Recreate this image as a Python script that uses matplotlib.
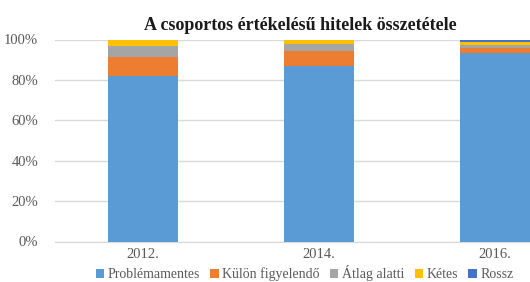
import matplotlib
matplotlib.use('Agg')
import matplotlib.pyplot as plt
import numpy as np

years = ['2012.', '2014.', '2016.']
series = ['Problémamentes', 'Külön figyelendő', 'Átlag alatti', 'Kétes', 'Rossz']
problemamentes = [82.0, 87.0, 93.2]
kulon = [9.4, 7.4, 2.5]
atlag = [5.5, 3.6, 1.8]
ketes = [3.0, 2.0, 1.5]
rossz = [0.1, 0.0, 1.0]
colors = ['#5B9BD5', '#ED7D31', '#A5A5A5', '#FFC000', '#4472C4']

values = [problemamentes, kulon, atlag, ketes, rossz]

fig = plt.figure(figsize=(5.30, 2.82), dpi=100)
# plot area is wider than the picture: the right part is cut off
ax = fig.add_axes([55 / 530, 40.5 / 282, 528 / 530, 202 / 282])

x = np.arange(len(years))
bottom = np.zeros(len(years))
handles = []
for name, vals, c in zip(series, values, colors):
    b = ax.bar(x, vals, width=0.4, bottom=bottom, color=c, label=name, zorder=3)
    handles.append(b)
    bottom += np.array(vals)

ax.set_xlim(-0.5, 2.5)
ax.set_ylim(0, 100)
ax.set_yticks(range(0, 101, 20))
ax.set_yticklabels([f'{v}%' for v in range(0, 101, 20)])
ax.set_xticks(x)
ax.set_xticklabels(years)
ax.grid(axis='y', color='#D9D9D9', linewidth=1, zorder=0)
for s in ['top', 'right', 'left']:
    ax.spines[s].set_visible(False)
ax.spines['bottom'].set_color('#D9D9D9')
ax.tick_params(axis='both', length=0, labelcolor='#595959', labelsize=10.5)
ax.tick_params(axis='y', pad=12)
ax.tick_params(axis='x', pad=5)
for t in ax.get_xticklabels() + ax.get_yticklabels():
    t.set_family('Liberation Serif')

fig.text(300 / 530, 257 / 282, 'A csoportos értékelésű hitelek összetétele',
         ha='center', va='center', fontsize=13, fontweight='bold',
         family='Liberation Serif', color='#1a1a1a')

leg = fig.legend(handles=handles, labels=series, ncol=5, loc='center left',
                 bbox_to_anchor=(86 / 530, 9 / 282), frameon=False,
                 handlelength=0.6, handleheight=0.6, handletextpad=0.25,
                 columnspacing=0.75, borderpad=0.2,
                 prop={'family': 'Liberation Serif', 'size': 10})
for t in leg.get_texts():
    t.set_color('#595959')

fig.savefig('out.png', dpi=100)
